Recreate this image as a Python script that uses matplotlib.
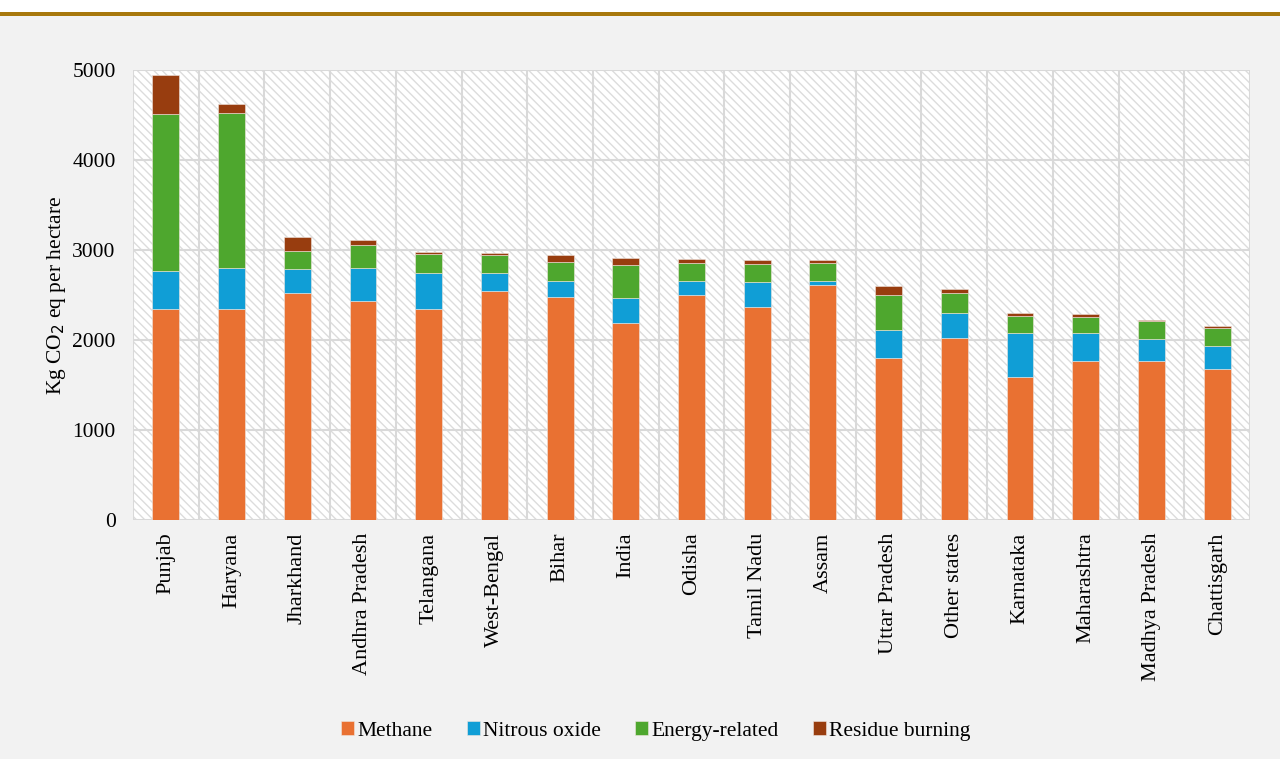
import matplotlib
matplotlib.use("Agg")
import matplotlib.pyplot as plt
from matplotlib.patches import Rectangle
import numpy as np

states = ["Punjab", "Haryana", "Jharkhand", "Andhra Pradesh", "Telangana",
          "West-Bengal", "Bihar", "India", "Odisha", "Tamil Nadu", "Assam",
          "Uttar Pradesh", "Other states", "Karnataka", "Maharashtra",
          "Madhya Pradesh", "Chattisgarh"]

methane = [2340, 2340, 2520, 2430, 2350, 2540, 2480, 2185, 2495, 2365, 2615,
           1795, 2020, 1585, 1770, 1765, 1680]
nitrous_oxide = [430, 460, 265, 375, 400, 205, 180, 280, 165, 275, 37,
                 315, 285, 490, 305, 250, 255]
energy_related = [1740, 1725, 200, 255, 210, 200, 205, 370, 200, 200, 205,
                  390, 215, 195, 180, 195, 195]
residue_burning = [435, 95, 155, 50, 20, 20, 80, 75, 35, 50, 30,
                   100, 50, 25, 30, 12, 30]

series = [("Methane", methane, "#e97132"),
          ("Nitrous oxide", nitrous_oxide, "#109ed6"),
          ("Energy-related", energy_related, "#4ea72e"),
          ("Residue burning", residue_burning, "#983d0f")]

plt.rcParams["font.family"] = ["Liberation Serif", "DejaVu Serif"]
plt.rcParams["hatch.linewidth"] = 1.0
plt.rcParams["hatch.color"] = "#dcdcdc"

fig = plt.figure(figsize=(12.8, 7.59), dpi=100, facecolor="#f2f2f2")

# white band and gold rule at the top of the page
fig.patches.append(Rectangle((0, 1 - 12 / 759), 1, 12 / 759, transform=fig.transFigure,
                             facecolor="white", edgecolor="none", zorder=0))
fig.patches.append(Rectangle((0, 1 - 16 / 759), 1, 4 / 759, transform=fig.transFigure,
                             facecolor="#a8780c", edgecolor="none", zorder=1))

ax = fig.add_axes([133 / 1280, 1 - 520 / 759, (1250 - 133) / 1280, 450 / 759])
ax.set_facecolor("white")

# striped plot area
ax.add_patch(Rectangle((0, 0), 1, 1, transform=ax.transAxes, facecolor="white",
                       hatch="\\\\\\\\", edgecolor="#dcdcdc", linewidth=0, zorder=0))

x = np.arange(len(states))
bottom = np.zeros(len(states))
for name, vals, color in series:
    vals = np.array(vals, dtype=float)
    ax.bar(x, vals, width=0.41, bottom=bottom, color=color, label=name,
           edgecolor="#f0e6e0", linewidth=0.4, zorder=3)
    bottom += vals

ax.set_xlim(-0.5, len(states) - 0.5)
ax.set_ylim(0, 5000)
ax.set_yticks(np.arange(0, 5001, 1000))
ax.set_xticks(x)
ax.set_xticklabels(states, rotation=90, fontsize=16)
ax.tick_params(axis="y", labelsize=15.5, length=0, pad=12.5)
ax.tick_params(axis="x", length=0, pad=9)

# category separators and value gridlines
for b in np.arange(-0.5, len(states), 1.0):
    ax.axvline(b, color="#d9d9d9", linewidth=1.5, zorder=1)
ax.yaxis.grid(True, color="#d9d9d9", linewidth=1.5, zorder=1)
ax.set_axisbelow(True)
for s in ax.spines.values():
    s.set_visible(False)

ax.set_ylabel("Kg CO$_2$ eq per hectare", fontsize=15.5, labelpad=3)

leg = fig.legend(loc="center", bbox_to_anchor=(656 / 1280, 1 - 731 / 759), ncol=4,
                 frameon=False, fontsize=15.5, handlelength=0.6, handleheight=0.6,
                 handletextpad=0.15, columnspacing=1.6)

fig.savefig("out.png", dpi=100, facecolor=fig.get_facecolor())
